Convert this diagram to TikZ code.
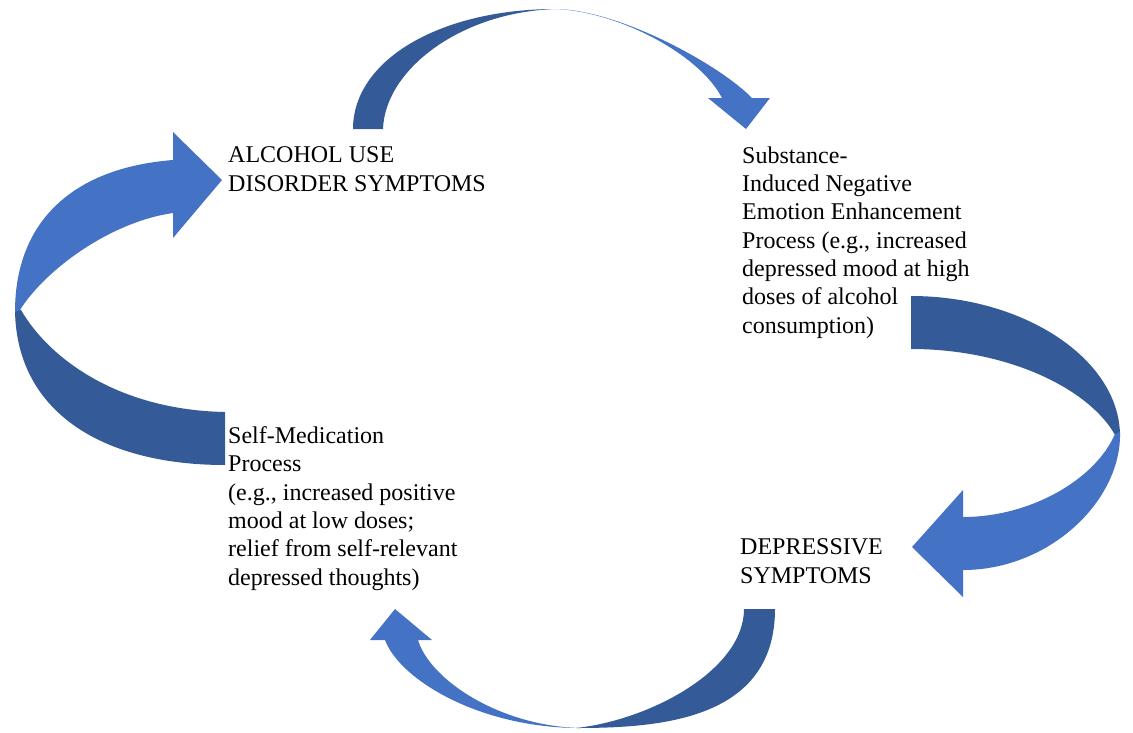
\documentclass[tikz,border=0pt]{standalone}
\usepackage{fontspec}
\setmainfont{Liberation Serif}
\definecolor{lightblue}{RGB}{68,114,196}
\definecolor{darkblue}{RGB}{52,90,152}
\begin{document}
\begin{tikzpicture}[x=1pt,y=-1pt,
  lbl/.style={anchor=base west, inner sep=0pt, align=left, font=\fontsize{24}{28.3}\selectfont},
  front/.style={fill=lightblue},
  back/.style={fill=darkblue}]
\useasboundingbox (0,0) rectangle (1133,732);
% top arrow
\fill[back] (353,129) .. controls (353,60) and (440,9) .. (556,9)
  .. controls (460,12) and (385,70) .. (383,129) -- cycle;
\fill[front] (556,9) .. controls (620,10) and (720,65) .. (752,98)
  -- (770,98) -- (746,129) -- (708,98) -- (722,98)
  .. controls (700,55) and (620,12) .. (556,9) -- cycle;
% left arrow
\fill[back] (15,308) .. controls (15,410) and (100,465) .. (225,465)
  -- (225,412) .. controls (120,410) and (50,360) .. (21,310) -- cycle;
\fill[front] (15,312) .. controls (15,222) and (72,168) .. (173,160)
  -- (173,132) -- (222,180) -- (173,238) -- (173,213)
  .. controls (110,222) and (45,270) .. (20,310) -- cycle;
% right arrow
\fill[back] (911,296) .. controls (1025,296) and (1120,360) .. (1120,436)
  -- (1115,435) .. controls (1090,390) and (1010,349) .. (911,349) -- cycle;
\fill[front] (1120,432) .. controls (1122,500) and (1050,570) .. (963,570)
  -- (963,597) -- (912,547) -- (963,490) -- (963,517)
  .. controls (1030,517) and (1095,480) .. (1115,434) -- cycle;
% bottom arrow
\fill[back] (775,609) .. controls (775,720) and (660,728) .. (576,728)
  .. controls (650,720) and (744,670) .. (744,609) -- cycle;
\fill[front] (580,728) .. controls (480,728) and (400,680) .. (385,640)
  -- (370,640) -- (395,609) -- (432,640) -- (418,640)
  .. controls (430,680) and (500,726) .. (580,728) -- cycle;
% texts
\node[lbl] (aud) at (228,191) {ALCOHOL USE\\DISORDER SYMPTOMS};
\node[lbl] (sinee) at (742,333) {Substance-\\Induced Negative\\Emotion Enhancement\\Process (e.g., increased\\depressed mood at high\\doses of alcohol\\consumption)};
\node[lbl] (smp) at (228,585) {Self-Medication\\Process\\(e.g., increased positive\\mood at low doses;\\relief from self-relevant\\depressed thoughts)};
\node[lbl] (dep) at (740,583) {DEPRESSIVE\\SYMPTOMS};
\end{tikzpicture}
\end{document}
